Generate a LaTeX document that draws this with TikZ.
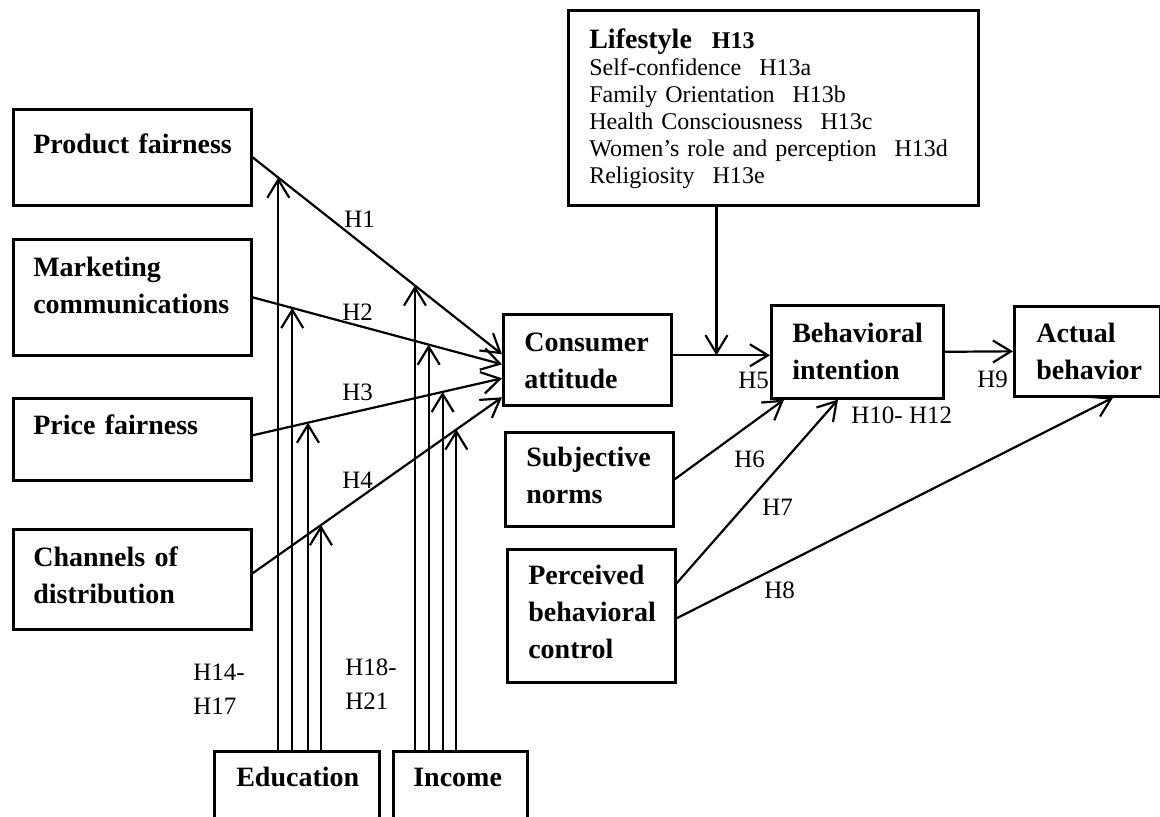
\documentclass[tikz,border=0pt]{standalone}
\usepackage{fontspec}
\setmainfont{Liberation Serif}
\usepackage{tikz}
\usetikzlibrary{arrows.meta}
\hyphenpenalty=10000
\exhyphenpenalty=10000

\begin{document}
\begin{tikzpicture}[x=0.5pt, y=-0.5pt,
		box/.style={draw, line width=1.3pt, anchor=north west, inner ysep=0pt, inner xsep=10.5pt,
		align=left, font=\bfseries\fontsize{14}{18.5}\selectfont},
		hyp/.style={anchor=base west, inner sep=0pt, font=\fontsize{12.5}{17}\selectfont},
		link/.style={line width=1.1pt, -{Straight Barb[length=9pt, width=11pt]}}]

		\useasboundingbox (0,0) rectangle (1160,816);
		\clip (0,0) rectangle (1160,816);

		% antecedents of attitude
		\node[box, inner xsep=10pt, text width=99pt, text height=22pt, text depth=26pt] (prodFair) at (12,108) {Product~fairness};
		\node[box, inner xsep=10pt, text width=99pt, text height=18.5pt, text depth=39.5pt] (mktComm) at (12,238) {Marketing\\communications};
		\node[box, inner xsep=10pt, text width=99pt, text height=18pt, text depth=23pt] (priceFair) at (12,397) {Price~fairness};
		\node[box, inner xsep=10pt, text width=99pt, text height=18.5pt, text depth=31.5pt] (channels) at (12,528) {Channels~of\\distribution};

		% moderators
		\node[box, inner xsep=11pt, text width=60.5pt, text height=17.5pt, text depth=40pt] (edu) at (213,750) {Education};
		\node[box, inner xsep=10pt, text width=47pt, text height=17.5pt, text depth=40pt] (income) at (392,750) {Income};

		% TPB part
		\node[box, text width=63pt, text height=18.5pt, text depth=27pt] (attitude) at (502,313) {Consumer\\attitude};
		\node[box, text width=65pt, text height=18.5pt, text depth=28pt] (intention) at (770,304) {Behavioral\\intention};
		\node[box, inner xsep=11pt, text width=51pt, text height=18pt, text depth=27pt] (behavior) at (1013,305) {Actual\\behavior};
		\node[box, text width=63pt, text height=17pt, text depth=30pt] (subNorms) at (504,431) {Subjective\\norms};
		\node[box, text width=63pt, text height=17.5pt, text depth=49pt] (control) at (506,548) {Perceived\\behavioral\\control};
		\node[box, text width=184pt, text height=19pt, text depth=78.5pt, font=\fontsize{12}{13.5}\selectfont] (lifestyle) at (567,9) {%
		{\bfseries\fontsize{14}{14}\selectfont Lifestyle}\hspace{10pt}\textbf{H13}\\
		Self-confidence\hspace{9pt}H13a\\
		Family Orientation\hspace{9pt}H13b\\
		Health Consciousness\hspace{9pt}H13c\\
		Women’s role and perception\hspace{9pt}H13d\\
		Religiosity\hspace{9pt}H13e};

		\foreach \src/\dy/\tip/\pe/\pi [count=\i] in {prodFair/0pt/2.75pt/0.103/0.651,
			mktComm/0pt/-2.25pt/0.159/0.706, priceFair/2pt/-9.25pt/0.222/0.762,
			channels/3pt/-18.75pt/0.274/0.817}{
			\draw[link] ([yshift=\dy]\src.east) -- coordinate[pos=\pe] (e\i) coordinate[pos=\pi] (n\i) ([yshift=\tip]attitude.west);
		}
		\foreach \i in {1, ..., 4}{
			\draw[link] (edu.north -| e\i) -- (e\i);
			\draw[link] (income.north -| n\i) -- (n\i);
		}

		\draw[link] ([yshift=2.25pt]attitude.east) -- coordinate[pos=0.45] (lsJoin) ([yshift=2.25pt]attitude.east -| intention.west);
		\draw[link] (lifestyle.south -| lsJoin) -- (lsJoin);
		\draw[link] (intention.east) -- (behavior.west);
		\draw[link] (subNorms.east) -- ([xshift=7pt]intention.south west);
		\draw[link] ([yshift=16.25pt]control.east) -- ([xshift=34pt]intention.south west);
		\draw[link] ([yshift=-1.25pt]control.east) -- ([xshift=50pt]behavior.south west);

		% hypotheses
		\node[hyp] (hOne) at (344,227) {H1};
		\node[hyp] (hTwo) at (342,320) {H2};
		\node[hyp] (hThree) at (342,400) {H3};
		\node[hyp] (hFour) at (342,488) {H4};
		\node[hyp] (hFive) at (738,388) {H5};
		\node[hyp] (hSix) at (734,467) {H6};
		\node[hyp] (hSeven) at (762,515) {H7};
		\node[hyp] (hEight) at (764,598) {H8};
		\node[hyp] (hNine) at (977,387) {H9};
		\node[hyp] (hTen) at (851,423) {H10- H12};
		\node[hyp, text width=30pt, align=left] (hEdu) at (193,680) {H14-\\H17};
		\node[hyp, text width=30pt, align=left] (hInc) at (345,675) {H18-\\H21};
	\end{tikzpicture}
\end{document}
